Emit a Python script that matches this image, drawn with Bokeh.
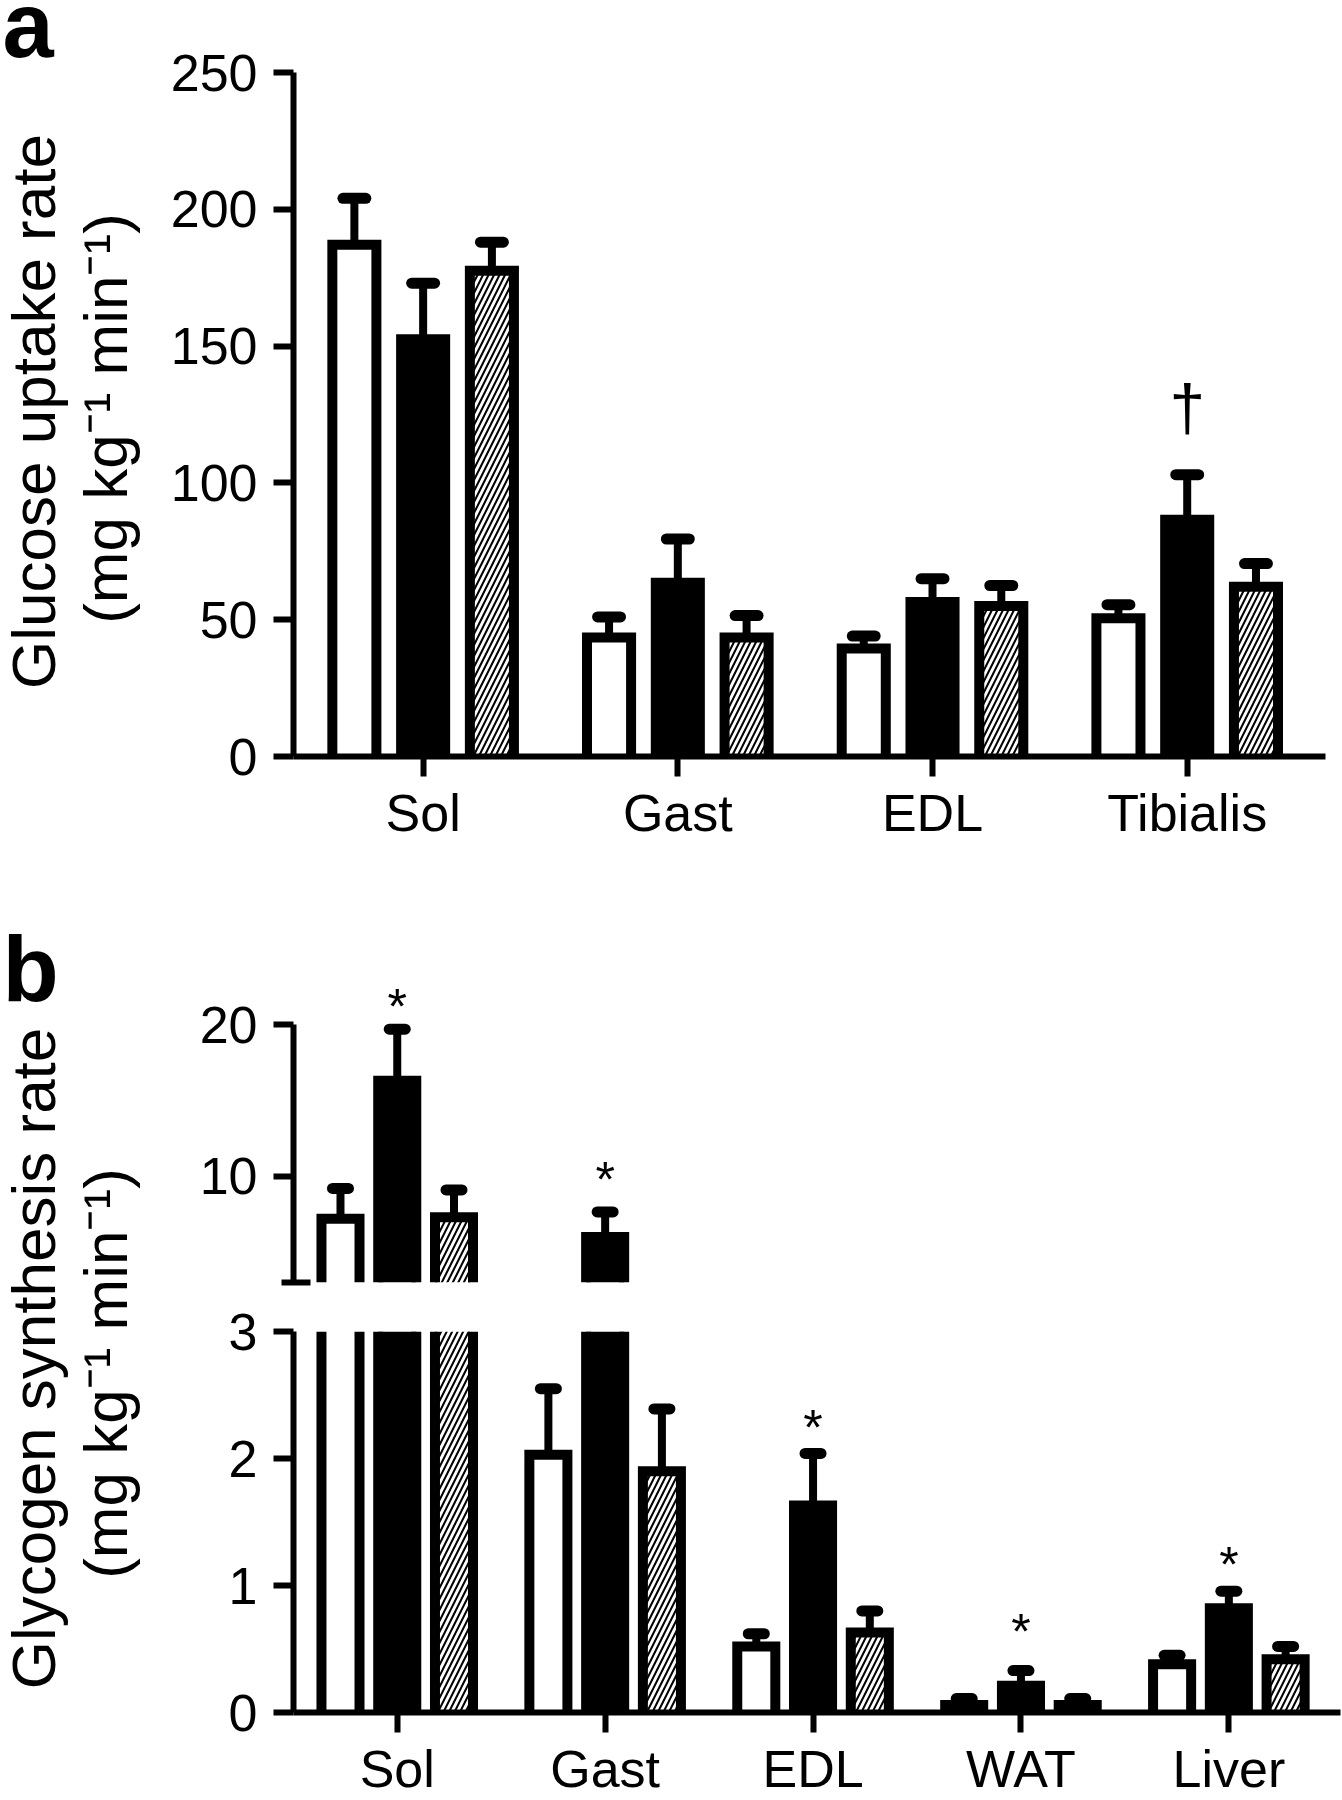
import numpy as np
from bokeh.plotting import figure
from bokeh.layouts import column, row
from bokeh.models import Range1d, FixedTicker
from bokeh.embed import file_html
from bokeh.resources import INLINE
from bokeh.core.properties import value

FONT = "Liberation Sans"

# ---------------- data: panel a (glucose uptake) ----------------
a_categories = ["Sol", "Gast", "EDL", "Tibialis"]
a_white = [187.0, 43.5, 39.5, 50.5]
a_white_err = [17.0, 7.5, 4.5, 5.0]
a_black = [152.5, 63.5, 56.5, 86.5]
a_black_err = [20.5, 16.0, 8.5, 16.5]
a_hatched = [177.5, 43.5, 55.0, 62.0]
a_hatched_err = [10.5, 8.0, 7.5, 8.5]
a_yticks = [0, 50, 100, 150, 200, 250]
a_ylabel = ["Glucose uptake rate", "(mg kg\u207b\u00b9 min\u207b\u00b9)"]
a_dagger_category = "Tibialis"
a_dagger_y = 126.0

# ---------------- data: panel b (glycogen synthesis) ----------------
b_categories = ["Sol", "Gast", "EDL", "WAT", "Liver"]
b_white = [7.2, 2.03, 0.52, 0.06, 0.38]
b_white_err = [2.0, 0.52, 0.10, 0.05, 0.07]
b_black = [16.3, 6.0, 1.63, 0.21, 0.82]
b_black_err = [3.4, 1.65, 0.41, 0.12, 0.135]
b_hatched = [7.3, 1.9, 0.63, 0.06, 0.42]
b_hatched_err = [1.8, 0.49, 0.17, 0.05, 0.10]
b_lower_ticks = [0, 1, 2, 3]
b_upper_ticks = [10, 20]
b_break = 3.0
b_upper_top = 20.0
b_star_y = [21.9, 10.5, 2.33, 0.72, 1.25]   # asterisks above the black bars
b_ylabel = ["Glycogen synthesis rate", "(mg kg\u207b\u00b9 min\u207b\u00b9)"]

# ---------------- layout constants (pixels) ----------------
TOTAL_W = 1342
LAB_W = 160                      # strip holding the panel letter and y title
MAIN_W = TOTAL_W - LAB_W
FRAME_LEFT = 293 - LAB_W         # left border inside the main figures

H_A, A_TOP, A_FRAME_H, A_RIGHT = 892, 72, 684, 17

H_BU, BU_TOP, BU_FRAME_H = 400, 83, 307       # upper segment of panel b
H_BL, BL_TOP, BL_FRAME_H = 508, 39, 388       # lower segment of panel b
B_RIGHT = 2
B_UPPER_PX = 15.17                            # px per unit in upper segment

A_OFF, A_W, A_CAP = 0.27, 0.173, 0.09
B_OFF, B_W, B_CAP = 0.273, 0.183, 0.077
LW_BAR, LW_STEM, LW_CAP = 10, 8, 11

SERIES_STYLE = {
    "white": dict(fill_color="white"),
    "black": dict(fill_color="black"),
    "hatched": dict(fill_color="white", hatch_pattern="/", hatch_color="black",
                    hatch_weight=2, hatch_scale=11),
}


def style_axis(ax):
    ax.axis_line_width = 6
    ax.axis_line_color = "black"
    ax.major_tick_line_width = 6
    ax.major_tick_line_color = "black"
    ax.major_tick_out = 20
    ax.major_tick_in = 0
    ax.minor_tick_line_color = None
    ax.major_label_text_font = FONT
    ax.major_label_text_font_size = "52px"
    ax.major_label_text_color = "black"


def add_bars(p, xc, bottom, top, width, kind, open_top=False):
    xc = np.asarray(xc, float)
    if len(xc) == 0:
        return
    bottom = np.asarray(bottom, float)
    top = np.asarray(top, float)
    p.vbar(x=xc, width=width, bottom=bottom, top=top, line_color=None,
           **SERIES_STYLE[kind])
    xs, ys = [], []
    for x, b, t in zip(xc, bottom, top):
        l, r = x - width / 2, x + width / 2
        if open_top:
            xs += [[l, l], [r, r]]
            ys += [[b, t], [b, t]]
        else:
            xs.append([l, l, r, r])
            ys.append([b, t, t, b])
    p.multi_line(xs=xs, ys=ys, line_color="black", line_width=LW_BAR,
                 line_join="miter")


def add_err(p, xc, base, err, cap_w):
    xc = np.asarray(xc, float)
    if len(xc) == 0:
        return
    base = np.asarray(base, float)
    tip = base + np.asarray(err, float)
    p.segment(x0=xc, y0=base, x1=xc, y1=tip, line_width=LW_STEM, line_color="black")
    p.segment(x0=xc - cap_w / 2, y0=tip, x1=xc + cap_w / 2, y1=tip,
              line_width=LW_CAP, line_cap="round", line_color="black")


def main_fig(height, x_range, y_range, top, bottom, right):
    p = figure(width=MAIN_W, height=height, x_range=x_range, y_range=y_range,
               output_backend="svg", toolbar_location=None,
               min_border_left=FRAME_LEFT, min_border_right=right,
               min_border_top=top, min_border_bottom=bottom)
    p.grid.visible = False
    p.outline_line_color = None
    p.background_fill_color = "white"
    p.border_fill_color = "white"
    return p


def label_fig(height, letter, letter_mid_y, lines, line_mid_x, line_mid_y):
    """Strip left of a panel: panel letter and two-line y-axis title (y measured from top)."""
    p = figure(width=LAB_W, height=height, x_range=Range1d(0, LAB_W),
               y_range=Range1d(height, 0), output_backend="svg",
               toolbar_location=None, x_axis_type=None, y_axis_type=None,
               min_border_left=0, min_border_right=0, min_border_top=0,
               min_border_bottom=0)
    p.outline_line_color = None
    p.background_fill_color = "white"
    p.border_fill_color = "white"
    p.text(x=[2], y=[letter_mid_y], text=[letter], text_font=value(FONT),
           text_font_size="92px", text_font_style="bold", text_align="left",
           text_baseline="middle", text_color="black")
    p.text(x=line_mid_x, y=line_mid_y, text=lines, text_font=value(FONT),
           text_font_size="62px", text_align="center", text_baseline="middle",
           angle=np.pi / 2, text_color="black")
    return p


# ================= panel a =================
pa = main_fig(H_A, Range1d(-0.509, 3.543), Range1d(0, 250),
              A_TOP, H_A - A_TOP - A_FRAME_H, A_RIGHT)
a_x = np.arange(len(a_categories), dtype=float)
for kind, vals, errs, off in [("white", a_white, a_white_err, -A_OFF),
                              ("black", a_black, a_black_err, 0.0),
                              ("hatched", a_hatched, a_hatched_err, A_OFF)]:
    xc = a_x + off
    add_bars(pa, xc, np.zeros(len(vals)), vals, A_W, kind)
    add_err(pa, xc, vals, errs, A_CAP)

di = a_categories.index(a_dagger_category)
pa.text(x=[a_x[di]], y=[a_dagger_y], text=["\u2020"], text_font=value(FONT),
        text_font_size="64px", text_align="center", text_baseline="middle",
        y_offset=-4, text_color="black")

ya = pa.yaxis[0]
style_axis(ya)
ya.ticker = FixedTicker(ticks=a_yticks)
ya.major_label_standoff = 16

xa = pa.xaxis[0]
style_axis(xa)
xa.ticker = FixedTicker(ticks=list(a_x))
xa.major_label_overrides = {int(i): c for i, c in enumerate(a_categories)}
xa.major_label_standoff = 7

lab_a = label_fig(H_A, "a", 24, a_ylabel, [33, 105], [411, 418])

# ================= panel b =================
B_XR = Range1d(-0.499, 4.537)
b_x = np.arange(len(b_categories), dtype=float)

pbu = main_fig(H_BU, B_XR, Range1d(b_break, b_break + BU_FRAME_H / B_UPPER_PX),
               BU_TOP, H_BU - BU_TOP - BU_FRAME_H, B_RIGHT)
pbl = main_fig(H_BL, B_XR, Range1d(0, b_break),
               BL_TOP, H_BL - BL_TOP - BL_FRAME_H, B_RIGHT)

for kind, vals, errs, off in [("white", b_white, b_white_err, -B_OFF),
                              ("black", b_black, b_black_err, 0.0),
                              ("hatched", b_hatched, b_hatched_err, B_OFF)]:
    xc = b_x + off
    v = np.asarray(vals, float)
    e = np.asarray(errs, float)
    brk = v > b_break
    n_b = int(brk.sum())
    # bars below the break
    add_bars(pbl, xc[~brk], np.zeros(int((~brk).sum())), v[~brk], B_W, kind)
    add_err(pbl, xc[~brk], v[~brk], e[~brk], B_CAP)
    # broken bars: lower piece up to the break, upper piece from the break
    add_bars(pbl, xc[brk], np.zeros(n_b), np.full(n_b, b_break), B_W, kind, open_top=True)
    add_bars(pbu, xc[brk], np.full(n_b, b_break), v[brk], B_W, kind)
    add_err(pbu, xc[brk], v[brk], e[brk], B_CAP)

bb = np.asarray(b_black) > b_break
sy = np.asarray(b_star_y)
for mask, p in [(bb, pbu), (~bb, pbl)]:
    p.text(x=b_x[mask], y=sy[mask], text=["*"] * int(mask.sum()),
           text_font=value(FONT), text_font_size="50px", text_align="center",
           text_baseline="middle", y_offset=11, text_color="black")

# upper segment axis (3 .. 20)
yu = pbu.yaxis[0]
style_axis(yu)
yu.bounds = (b_break, b_upper_top)
yu.ticker = FixedTicker(ticks=b_upper_ticks, minor_ticks=[b_break])
yu.minor_tick_line_color = "black"
yu.minor_tick_line_width = 6
yu.minor_tick_in = 17
yu.minor_tick_out = 12
yu.major_label_standoff = 16
pbu.xaxis.visible = False

# lower segment axis (0 .. 3)
yl = pbl.yaxis[0]
style_axis(yl)
yl.ticker = FixedTicker(ticks=b_lower_ticks)
yl.major_label_standoff = 16

xb = pbl.xaxis[0]
style_axis(xb)
xb.ticker = FixedTicker(ticks=list(b_x))
xb.major_label_overrides = {int(i): c for i, c in enumerate(b_categories)}
xb.major_label_standoff = 7

H_B = H_BU + H_BL
lab_b = label_fig(H_B, "b", 968 - H_A, b_ylabel, [33, 105], [1358 - H_A, 1373 - H_A])

# wrap the main figures in columns so the label strips are not frame-aligned to them
layout = column(row(lab_a, column(pa)), row(lab_b, column(pbu, pbl)))
open("out.html", "w").write(file_html(layout, INLINE))
